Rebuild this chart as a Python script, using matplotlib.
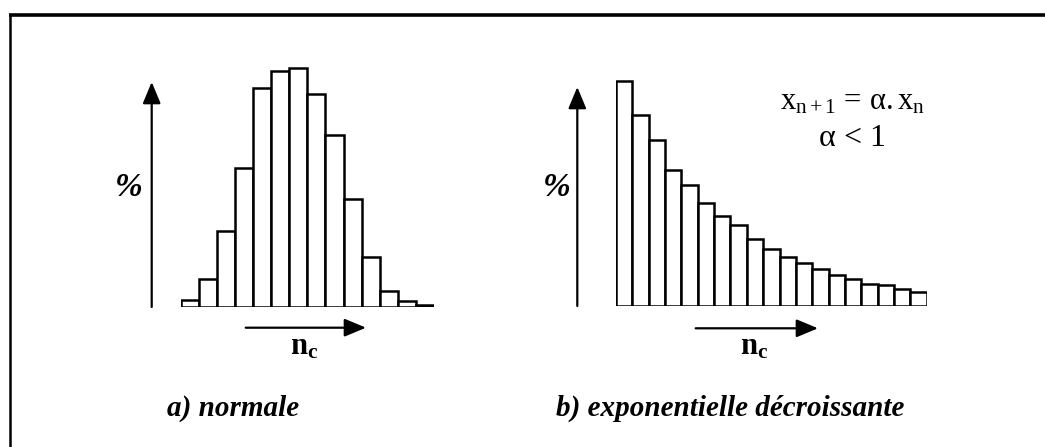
import matplotlib
matplotlib.use("Agg")
import matplotlib.pyplot as plt

plt.rcParams['font.family'] = ['Liberation Serif', 'DejaVu Serif']
plt.rcParams['mathtext.fontset'] = 'custom'
plt.rcParams['mathtext.rm'] = 'Liberation Serif'
plt.rcParams['mathtext.it'] = 'Liberation Serif:italic'
plt.rcParams['mathtext.bf'] = 'Liberation Serif:bold'

# Data (relative heights)
normal_values = [6.7, 27.7, 76, 138.7, 218.4, 236, 238.4, 212.7, 171.4, 107.4, 49.4, 16, 5.7, 1.4]
expo_values = [225, 190.7, 165.4, 135.4, 120.7, 103, 89.4, 81, 66.4, 57, 48.4, 43, 36.7,
               30.4, 26.4, 22, 20.4, 16.4, 14]
captions = ["a) normale", "b) exponentielle décroissante"]
y_label = "%"
x_label = r"$\mathbf{n_c}$"
formula_lines = [r"$\mathrm{x_{n+1}\,=\,α.x_n}$", r"$\mathrm{α\,<\,1}$"]

W, H = 1045, 447
fig = plt.figure(figsize=(W / 100, H / 100), dpi=100)


def px_axes(x0, x1, ybase, height):
    return fig.add_axes([x0 / W, (H - ybase) / H, (x1 - x0) / W, height / H])


def draw_bars(ax, values):
    idx = list(range(len(values)))
    ax.bar(idx, values, width=1, align='edge', facecolor='white',
           edgecolor='black', linewidth=1.8)
    ax.set_xlim(0, len(values))
    ax.set_ylim(0, 240)
    ax.axis('off')


ax1 = px_axes(180.7, 434, 306.7, 240)
draw_bars(ax1, normal_values)
ax2 = px_axes(616, 926.7, 305.7, 240)
draw_bars(ax2, expo_values)

ov = fig.add_axes([0, 0, 1, 1], zorder=5)
ov.set_xlim(0, W)
ov.set_ylim(H, 0)
ov.axis('off')
ov.patch.set_alpha(0)

# frame
ov.plot([10, 10], [H, 15], color='black', lw=1.8)
ov.plot([9.3, W], [15, 15], color='black', lw=2.6, solid_capstyle='butt')

arrow_kw = dict(arrowstyle='-|>,head_length=0.6,head_width=0.25', color='black', lw=1.6,
                mutation_scale=22, shrinkA=0, shrinkB=0)
# vertical arrows
ov.annotate('', xy=(151.7, 82), xytext=(151.7, 307), arrowprops=arrow_kw)
ov.annotate('', xy=(577.3, 87), xytext=(577.3, 306), arrowprops=arrow_kw)
# horizontal arrows
ov.annotate('', xy=(366, 327.7), xytext=(245.7, 327.7), arrowprops=arrow_kw)
ov.annotate('', xy=(818, 328.3), xytext=(695.7, 328.3), arrowprops=arrow_kw)

# labels
for x in (129, 557):
    ov.text(x, 188, y_label, fontsize=24, fontweight='bold', fontstyle='italic',
            ha='center', va='center')
for x in (304, 754):
    ov.text(x, 347, x_label, fontsize=22, ha='center', va='center')

ov.text(853, 102, formula_lines[0], fontsize=22, ha='center', va='center')
ov.text(852, 138, formula_lines[1], fontsize=23, ha='center', va='center')

ov.text(233, 408, captions[0], fontsize=21, fontweight='bold', fontstyle='italic',
        ha='center', va='center')
ov.text(730, 408, captions[1], fontsize=21, fontweight='bold', fontstyle='italic',
        ha='center', va='center')

fig.savefig('out.png', dpi=100, facecolor='white')
